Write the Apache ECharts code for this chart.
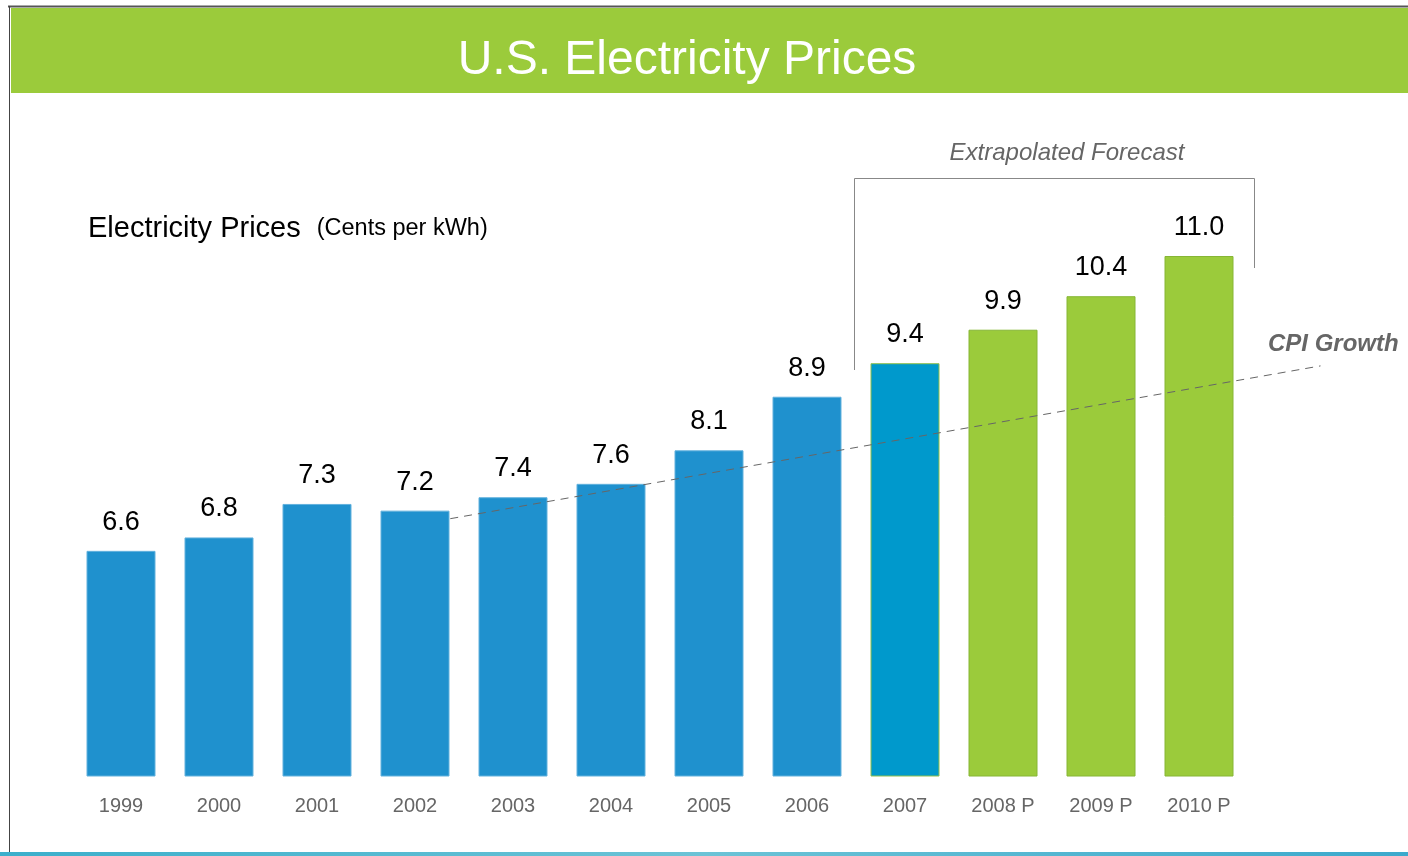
<!DOCTYPE html>
<html>
<head>
<meta charset="utf-8">
<script src="https://cdn.jsdelivr.net/npm/echarts@6/dist/echarts.min.js"></script>
<style>
html,body{margin:0;padding:0;background:#fff;}
#chart{width:1408px;height:856px;}
</style>
</head>
<body>
<div id="chart"></div>
<script>
// ---- data ----
var years = ['1999','2000','2001','2002','2003','2004','2005','2006','2007','2008 P','2009 P','2010 P'];
var prices = [6.6, 6.8, 7.3, 7.2, 7.4, 7.6, 8.1, 8.9, 9.4, 9.9, 10.4, 11.0];
// CPI growth trend line: [category position, price]
var cpiX = [3.36, 12.24];
var cpiY = [7.08, 9.36];
var titleText = 'U.S. Electricity Prices';
var axisTitle = 'Electricity Prices';
var axisUnit = '(Cents per kWh)';
var forecastText = 'Extrapolated Forecast';
var cpiText = 'CPI Growth';

var FONT = '"Liberation Sans", Arial, sans-serif';
var chart = echarts.init(document.getElementById('chart'));

var barData = prices.map(function (v, i) {
  var style;
  if (i < 8) style = { color: '#1F91CE', borderColor: '#62B1DD', borderWidth: 1 };
  else if (i === 8) style = { color: '#0099CC', borderColor: '#8FBF4C', borderWidth: 1 };
  else style = { color: '#9BCB3B', borderColor: '#86B635', borderWidth: 1 };
  return { value: v, itemStyle: style };
});
var cpiData = cpiX.map(function (x, i) { return [x, cpiY[i]]; });

var Y_MIN = 3.24, Y_MAX = 11.0;

chart.setOption({
  animation: false,
  backgroundColor: '#fff',
  textStyle: { fontFamily: FONT },
  title: [
    { text: titleText, left: 682, top: 32, textAlign: 'center',
      textStyle: { color: '#fff', fontSize: 48, fontWeight: 'normal', fontFamily: FONT } },
    { text: '{a|' + axisTitle + '}{b|' + axisUnit + '}', left: 83, top: 209,
      textStyle: { fontWeight: 'normal', rich: {
        a: { fontSize: 29, color: '#000', fontWeight: 'normal', fontFamily: FONT },
        b: { fontSize: 23.5, color: '#000', fontWeight: 'normal', fontFamily: FONT, padding: [0, 0, 0, 16] }
      } } },
    { text: forecastText, left: 1062, top: 136, textAlign: 'center',
      textStyle: { color: '#666', fontSize: 24, fontStyle: 'italic', fontWeight: 'normal', fontFamily: FONT } },
    { text: cpiText, left: 1263, top: 327,
      textStyle: { color: '#666', fontSize: 24, fontStyle: 'italic', fontWeight: 'bold', fontFamily: FONT } }
  ],
  graphic: [
    { type: 'rect', z: -10, shape: { x: 11, y: 8, width: 1397, height: 85 }, style: { fill: '#9BCB3B' } },
    { type: 'line', z: -5, shape: { x1: 8, y1: 6.5, x2: 1408, y2: 6.5 }, style: { stroke: '#555', lineWidth: 2 } },
    { type: 'line', z: -5, shape: { x1: 9.5, y1: 6, x2: 9.5, y2: 856 }, style: { stroke: '#444', lineWidth: 1 } },
    { type: 'rect', z: -5, shape: { x: 0, y: 852, width: 1408, height: 4 },
      style: { fill: new echarts.graphic.LinearGradient(0, 0, 1, 0, [
        { offset: 0, color: '#3BAFCB' }, { offset: 0.5, color: '#6CC3D6' }, { offset: 1, color: '#3CA9CC' }]) } },
    { type: 'polyline', z: 5, shape: { points: [[854.5, 370], [854.5, 178.5], [1254.5, 178.5], [1254.5, 268]] },
      style: { stroke: '#888', lineWidth: 1, fill: null } }
  ],
  grid: [
    { left: 72, width: 1176, top: 256, bottom: 80, containLabel: false },
    // same scale, one category wider so the CPI trend can run past the last bar
    { left: 72, width: 1274, top: 256, bottom: 80, containLabel: false }
  ],
  xAxis: [
    { type: 'category', gridIndex: 0, data: years,
      axisLine: { show: false }, axisTick: { show: false }, splitLine: { show: false },
      axisLabel: { color: '#666', fontSize: 20, margin: 20, fontFamily: FONT } },
    { type: 'value', gridIndex: 1, min: -0.5, max: 12.5, show: false }
  ],
  yAxis: [
    { type: 'value', gridIndex: 0, min: Y_MIN, max: Y_MAX, show: false, splitLine: { show: false } },
    { type: 'value', gridIndex: 1, min: Y_MIN, max: Y_MAX, show: false, splitLine: { show: false } }
  ],
  series: [
    { type: 'bar', xAxisIndex: 0, yAxisIndex: 0, data: barData, barWidth: 69,
      label: { show: true, position: 'top', distance: 15, color: '#000', fontSize: 27,
        fontFamily: FONT, formatter: function (p) { return p.value.toFixed(1); } } },
    { type: 'line', xAxisIndex: 1, yAxisIndex: 1, data: cpiData, clip: false, symbol: 'none', z: 10,
      lineStyle: { color: '#666', width: 1, type: [8, 6] } }
  ]
});
</script>
</body>
</html>
